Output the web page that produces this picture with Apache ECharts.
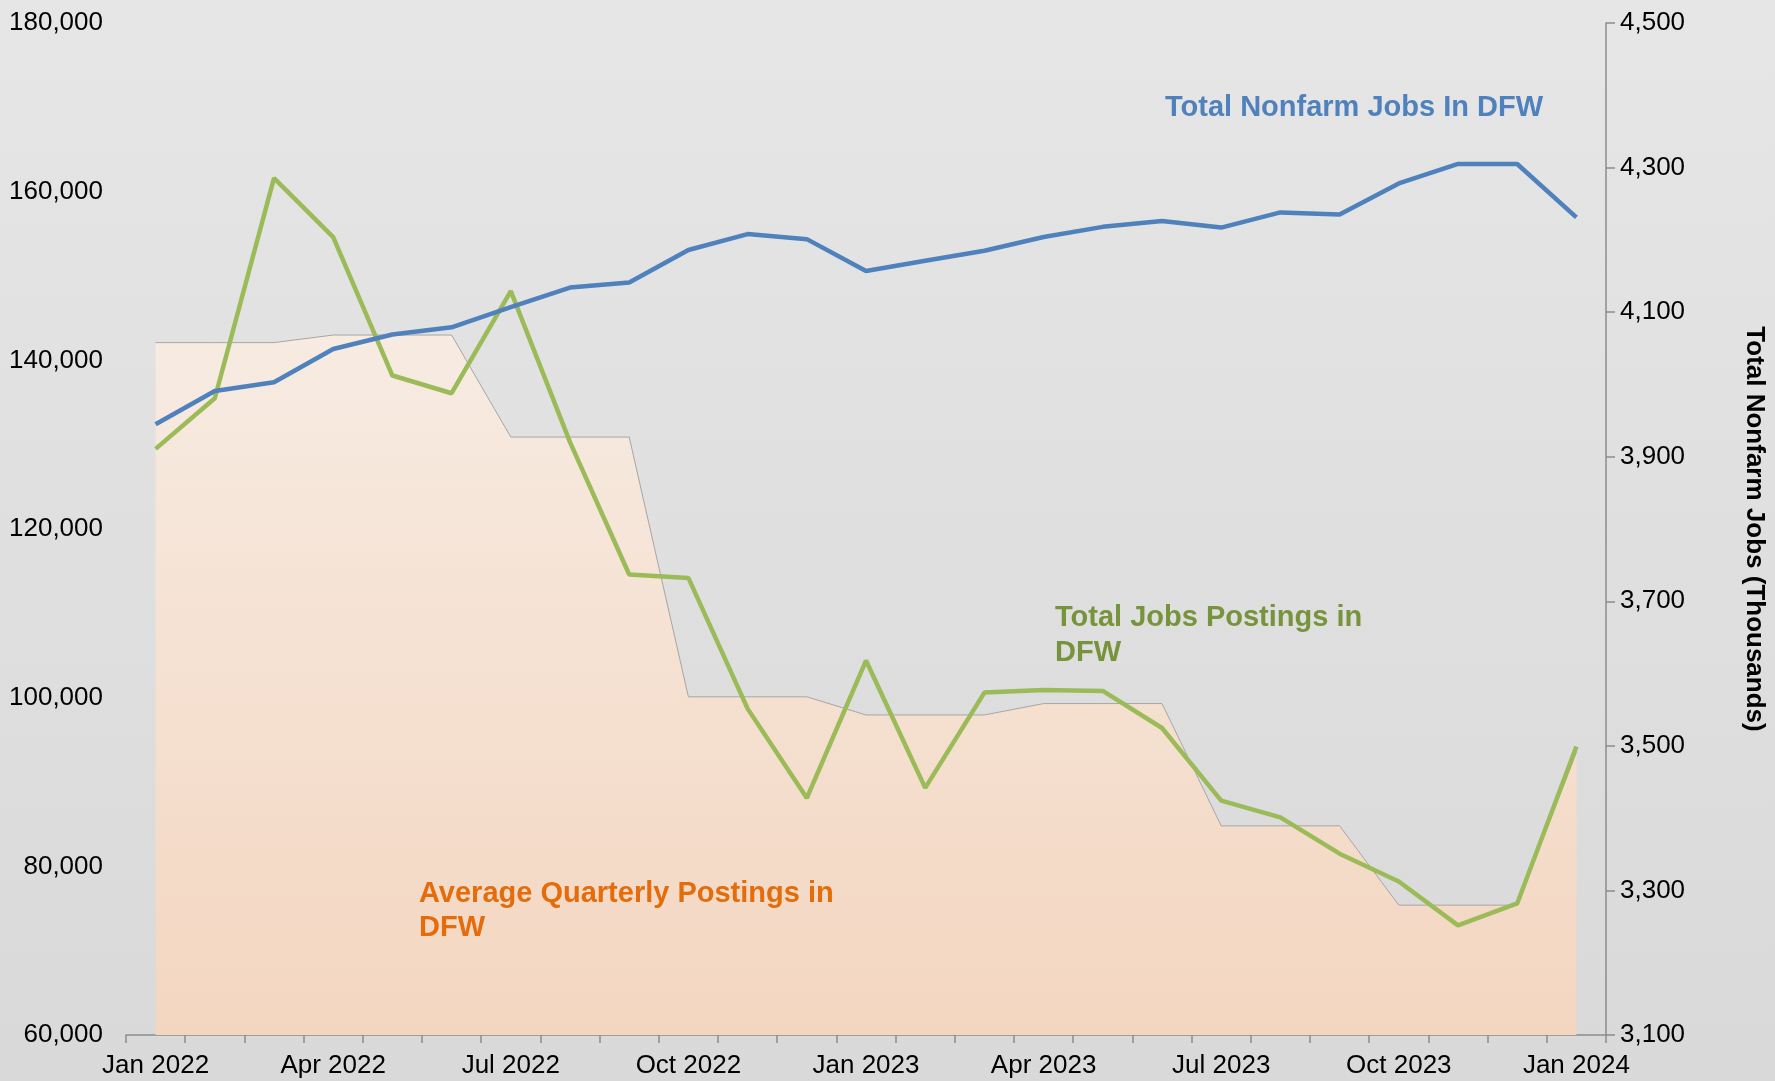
<!DOCTYPE html>
<html>
<head>
<meta charset="utf-8">
<script src="https://cdn.jsdelivr.net/npm/echarts@6/dist/echarts.min.js"></script>
<style>
  html, body { margin: 0; padding: 0; }
  #chart { width: 1775px; height: 1081px; }
</style>
</head>
<body>
<div id="chart"></div>
<script>
var months = ['Jan 2022','Feb 2022','Mar 2022','Apr 2022','May 2022','Jun 2022','Jul 2022','Aug 2022','Sep 2022',
  'Oct 2022','Nov 2022','Dec 2022','Jan 2023','Feb 2023','Mar 2023','Apr 2023','May 2023','Jun 2023',
  'Jul 2023','Aug 2023','Sep 2023','Oct 2023','Nov 2023','Dec 2023','Jan 2024'];

// monthly job postings (left axis)
var postings = [129500, 135500, 161600, 154600, 138200, 136100, 148200, 130300, 114600, 114200, 98700, 88100,
  104400, 89300, 100600, 100900, 100800, 96400, 87800, 85800, 81500, 78200, 73000, 75600, 94200];

// quarterly average postings, repeated per month (left axis)
var quarterlyAvg = [142100, 142100, 142100, 143000, 143000, 143000, 130900, 130900, 130900, 100100, 100100, 100100,
  97950, 97950, 97950, 99300, 99300, 99300, 84800, 84800, 84800, 75400, 75400, 75400, 93500];

// total nonfarm jobs, thousands (right axis)
var nonfarm = [3945, 3991, 4003, 4049, 4069, 4079, 4107, 4134, 4141, 4186, 4208, 4201,
  4157, 4171, 4185, 4204, 4218, 4226, 4217, 4238, 4235, 4278, 4305, 4305, 4231];

var font = 'Arial, "Liberation Sans", sans-serif';
var chart = echarts.init(document.getElementById('chart'));

var option = {
  backgroundColor: new echarts.graphic.LinearGradient(0, 0, 0, 1, [
    { offset: 0, color: '#e7e6e7' },
    { offset: 1, color: '#d9d9d9' }
  ]),
  animation: false,
  textStyle: { fontFamily: font },
  grid: { left: 126, right: 166, top: 23, bottom: 46 },
  xAxis: {
    type: 'category',
    data: months,
    boundaryGap: true,
    axisLine: { show: true, lineStyle: { color: '#8c8c8c', width: 1.5 } },
    axisTick: { show: true, interval: 0, length: 8, lineStyle: { color: '#8c8c8c', width: 1.5 } },
    axisLabel: {
      interval: 2,
      color: '#000',
      fontSize: 26,
      margin: 18,
      fontFamily: font
    },
    splitLine: { show: false }
  },
  yAxis: [
    {
      type: 'value',
      min: 60000,
      max: 180000,
      interval: 20000,
      axisLine: { show: false },
      axisTick: { show: false },
      splitLine: { show: false },
      axisLabel: {
        color: '#000',
        fontSize: 26,
        margin: 23,
        fontFamily: font,
        formatter: function (v) { return v.toLocaleString('en-US'); }
      }
    },
    {
      type: 'value',
      min: 3100,
      max: 4500,
      interval: 200,
      position: 'right',
      name: 'Total Nonfarm Jobs (Thousands)',
      nameLocation: 'middle',
      nameRotate: -90,
      nameGap: 135,
      nameTextStyle: { color: '#000', fontSize: 26, fontWeight: 'bold', fontFamily: font },
      axisLine: { show: true, lineStyle: { color: '#8c8c8c', width: 1.5 } },
      axisTick: { show: true, length: 9, lineStyle: { color: '#8c8c8c', width: 1.5 } },
      splitLine: { show: false },
      axisLabel: {
        color: '#000',
        fontSize: 26,
        margin: 14,
        fontFamily: font,
        formatter: function (v) { return v.toLocaleString('en-US'); }
      }
    }
  ],
  series: [
    {
      name: 'Average Quarterly Postings in DFW',
      type: 'line',
      yAxisIndex: 0,
      data: quarterlyAvg,
      symbol: 'none',
      lineStyle: { color: '#a6a6a6', width: 1 },
      areaStyle: {
        opacity: 1,
        color: new echarts.graphic.LinearGradient(0, 0, 0, 1, [
          { offset: 0, color: '#f7ebe2' },
          { offset: 1, color: '#f3d6c0' }
        ])
      },
      z: 1
    },
    {
      name: 'Total Jobs Postings in DFW',
      type: 'line',
      yAxisIndex: 0,
      data: postings,
      symbol: 'none',
      lineStyle: { color: '#9bbb59', width: 4.5 },
      z: 3
    },
    {
      name: 'Total Nonfarm Jobs In DFW',
      type: 'line',
      yAxisIndex: 1,
      data: nonfarm,
      symbol: 'none',
      lineStyle: { color: '#4f81bd', width: 4.5 },
      z: 4
    }
  ],
  graphic: [
    {
      type: 'text', left: 1165, top: 93, z: 10,
      style: { text: 'Total Nonfarm Jobs In DFW', fill: '#4f81bd', font: 'bold 29px ' + font }
    },
    {
      type: 'text', left: 1055, top: 600, z: 10,
      style: { text: 'Total Jobs Postings in\nDFW', fill: '#77933c', font: 'bold 29px ' + font, lineHeight: 35 }
    },
    {
      type: 'text', left: 419, top: 877, z: 10,
      style: { text: 'Average Quarterly Postings in\nDFW', fill: '#e46c0a', font: 'bold 29px ' + font, lineHeight: 34 }
    }
  ]
};

chart.setOption(option);
</script>
</body>
</html>
